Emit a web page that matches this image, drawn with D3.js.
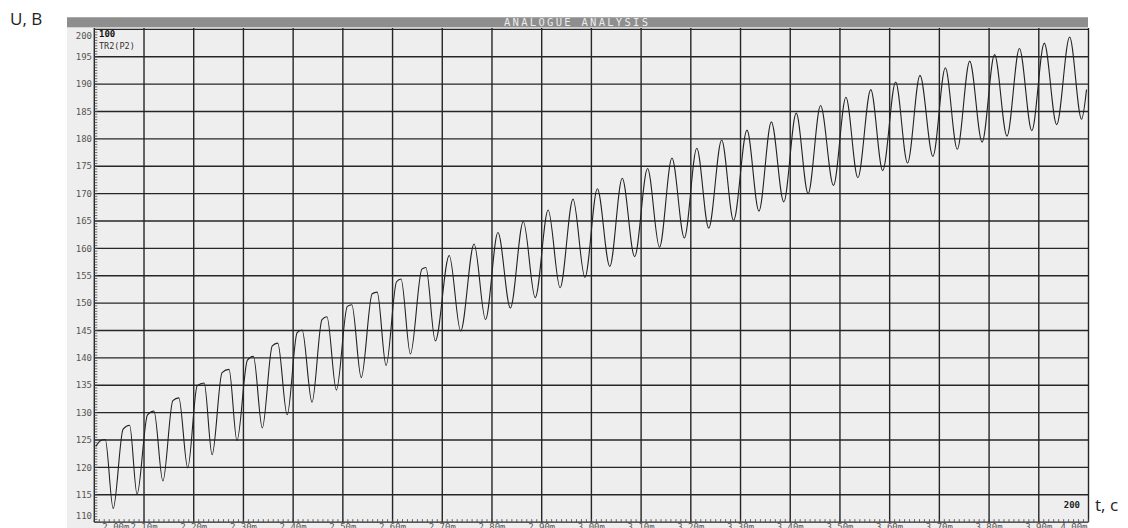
<!DOCTYPE html>
<html>
<head>
<meta charset="utf-8">
<title>Analogue analysis</title>
<script src="https://d3js.org/d3.v7.min.js"></script>
<style>
  body { margin: 0; background: #fff; }
  .pix { font-family: "DejaVu Sans Mono", monospace; }
</style>
</head>
<body>
<div id="chart"></div>
<script>
// trace: time (m) and voltage (B), extrema + shoulders
var times = [
  2.003, 2.013, 2.022, 2.038, 2.058, 2.071, 2.086, 2.107, 2.120, 2.138,
  2.158, 2.170, 2.188, 2.207, 2.221, 2.237, 2.257, 2.271, 2.287, 2.308,
  2.320, 2.338, 2.358, 2.369, 2.388, 2.408, 2.418, 2.438, 2.458, 2.468,
  2.487, 2.509, 2.518, 2.537, 2.559, 2.569, 2.587, 2.608, 2.617, 2.636,
  2.659, 2.667, 2.686, 2.714, 2.737, 2.764, 2.787, 2.812, 2.837, 2.863,
  2.887, 2.913, 2.937, 2.963, 2.987, 3.012, 3.037, 3.062, 3.087, 3.113,
  3.137, 3.162, 3.187, 3.212, 3.236, 3.262, 3.286, 3.313, 3.337, 3.362,
  3.387, 3.412, 3.436, 3.461, 3.487, 3.512, 3.536, 3.562, 3.586, 3.612,
  3.636, 3.661, 3.687, 3.712, 3.736, 3.761, 3.786, 3.811, 3.836, 3.861,
  3.886, 3.911, 3.936, 3.962, 3.986, 3.996
];
var volts = [
  123.8, 124.9, 125.1, 112.5, 127.0, 127.7, 115.1, 129.6, 130.3, 117.5,
  132.2, 132.7, 119.9, 134.9, 135.4, 122.3, 137.3, 137.9, 124.9, 139.6,
  140.3, 127.2, 142.2, 142.7, 129.6, 144.6, 145.1, 131.9, 147.0, 147.5,
  134.1, 149.4, 149.7, 136.4, 151.7, 152.0, 138.6, 153.9, 154.4, 140.7,
  156.2, 156.5, 143.1, 158.7, 144.9, 160.8, 147.0, 162.9, 149.1, 164.9,
  151.0, 167.0, 152.8, 169.0, 154.7, 170.9, 156.7, 172.8, 158.5, 174.6,
  160.2, 176.5, 161.9, 178.3, 163.7, 179.8, 165.1, 181.6, 166.8, 183.1,
  168.5, 184.7, 170.0, 186.1, 171.5, 187.6, 172.9, 189.0, 174.2, 190.4,
  175.6, 191.6, 176.8, 193.0, 178.1, 194.2, 179.4, 195.4, 180.5, 196.5,
  181.5, 197.5, 182.6, 198.6, 183.6, 189.0
];

var yTicks = [110, 115, 120, 125, 130, 135, 140, 145, 150, 155,
              160, 165, 170, 175, 180, 185, 190, 195, 200];
var xTicks = [2.0, 2.1, 2.2, 2.3, 2.4, 2.5, 2.6, 2.7, 2.8, 2.9, 3.0,
              3.1, 3.2, 3.3, 3.4, 3.5, 3.6, 3.7, 3.8, 3.9, 4.0];
var xTickLabels = ["2.00m", "2.10m", "2.20m", "2.30m", "2.40m", "2.50m", "2.60m",
                   "2.70m", "2.80m", "2.90m", "3.00m", "3.10m", "3.20m", "3.30m",
                   "3.40m", "3.50m", "3.60m", "3.70m", "3.80m", "3.90m", "4.00m"];

var W = 1128, H = 528;
// plot box (window.top is taken, so no "top" here)
var pLeft = 94.3, pRight = 1088.5, pTop = 29.4, pBottom = 522.1;

var svg = d3.select("#chart").append("svg")
  .attr("width", W).attr("height", H);

var x = d3.scaleLinear().domain([2, 4]).range([pLeft, pRight]);
var y = d3.scaleLinear().domain([110, 200]).range([pBottom, pTop]);

// panel + title bar
svg.append("rect")
  .attr("x", 67).attr("y", 17).attr("width", 1021).attr("height", H - 17)
  .attr("fill", "#eeeeee");
svg.append("rect")
  .attr("x", 67).attr("y", 17.3).attr("width", 1021).attr("height", 10)
  .attr("fill", "#8e8e8e");
svg.append("text").attr("class", "pix")
  .attr("x", 504).attr("y", 25.8)
  .attr("textLength", 144).attr("lengthAdjust", "spacing")
  .style("font-size", "10.5px").attr("fill", "#ececec")
  .text("ANALOGUE ANALYSIS");

// grid
var grid = svg.append("g").attr("stroke", "#262626").attr("stroke-width", 1.4);
grid.selectAll("line.h").data(yTicks).enter().append("line")
  .attr("x1", pLeft).attr("x2", pRight)
  .attr("y1", function (d) { return y(d); })
  .attr("y2", function (d) { return y(d); });
grid.selectAll("line.v").data(xTicks).enter().append("line")
  .attr("y1", 28).attr("y2", pBottom)
  .attr("x1", function (d) { return x(d); })
  .attr("x2", function (d) { return x(d); });

// minor ticks
var minor = svg.append("g").attr("stroke", "#444").attr("stroke-width", 0.8);
minor.selectAll("line.my").data(y.ticks(180)).enter().append("line")
  .attr("x1", pLeft).attr("x2", pLeft + 3)
  .attr("y1", function (d) { return y(d); })
  .attr("y2", function (d) { return y(d); });
minor.selectAll("line.mx").data(x.ticks(200)).enter().append("line")
  .attr("y1", pBottom).attr("y2", pBottom - 3)
  .attr("x1", function (d) { return x(d); })
  .attr("x2", function (d) { return x(d); });

// y labels
svg.append("g").attr("class", "pix").style("font-size", "9px").attr("fill", "#555")
  .selectAll("text").data(yTicks).enter().append("text")
  .attr("x", 92).attr("text-anchor", "end").attr("dy", "0.35em")
  .attr("y", function (d) {
    if (d === 200) return y(d) + 6;
    if (d === 110) return y(d) - 6;
    return y(d);
  })
  .text(function (d) { return d; });

// x labels (cut by the bottom of the window)
svg.append("g").attr("class", "pix").style("font-size", "9px").attr("fill", "#555")
  .selectAll("text").data(xTicks).enter().append("text")
  .attr("y", 530)
  .attr("x", function (d, i) {
    if (i === 0) return x(d) + 8;
    if (i === xTicks.length - 1) return x(d) - 1;
    return x(d);
  })
  .attr("text-anchor", function (d, i) {
    if (i === 0) return "start";
    if (i === xTicks.length - 1) return "end";
    return "middle";
  })
  .text(function (d, i) { return xTickLabels[i]; });

// trace
svg.append("clipPath").attr("id", "clip").append("rect")
  .attr("x", pLeft).attr("y", 28).attr("width", pRight - pLeft).attr("height", pBottom - 28);

var pts = times.map(function (t, i) { return { t: t, v: volts[i] }; });
svg.append("path")
  .datum(pts)
  .attr("clip-path", "url(#clip)")
  .attr("fill", "none")
  .attr("stroke", "#222")
  .attr("stroke-width", 1.1)
  .attr("d", d3.line()
    .x(function (d) { return x(d.t); })
    .y(function (d) { return y(d.v); })
    .curve(d3.curveMonotoneX));

// labels inside the plot
svg.append("text").attr("class", "pix").attr("x", 99).attr("y", 37)
  .style("font-size", "9px").style("font-weight", "bold").attr("fill", "#111").text("100");
svg.append("text").attr("class", "pix").attr("x", 99).attr("y", 49)
  .style("font-size", "8.5px").attr("fill", "#333").text("TR2(P2)");
svg.append("text").attr("class", "pix").attr("x", 1080).attr("y", 508)
  .attr("text-anchor", "end")
  .style("font-size", "9px").style("font-weight", "bold").attr("fill", "#222").text("200");

// axis names
svg.append("text").attr("x", 10).attr("y", 25)
  .style("font-family", "'Open Sans', sans-serif").style("font-size", "17px")
  .attr("fill", "#222").text("U, B");
svg.append("text").attr("x", 1095).attr("y", 511)
  .style("font-family", "'Open Sans', sans-serif").style("font-size", "17px")
  .attr("fill", "#222").text("t, c");
</script>
</body>
</html>
